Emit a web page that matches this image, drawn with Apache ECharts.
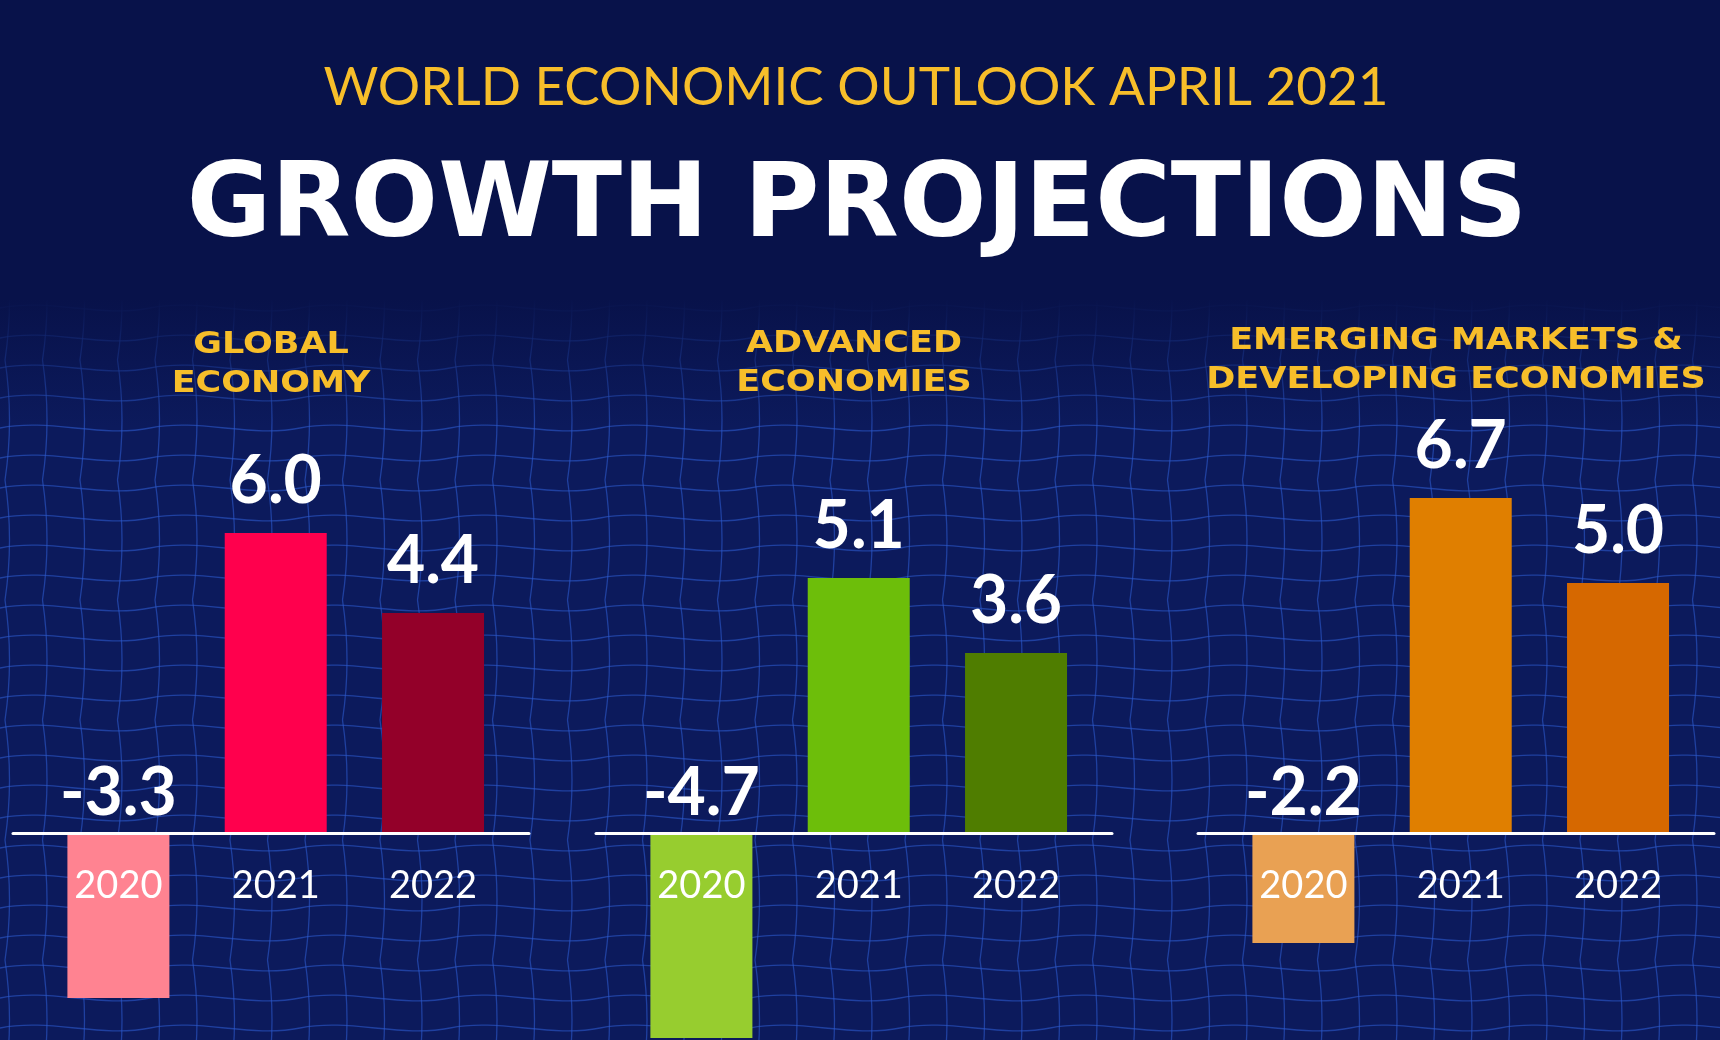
<!DOCTYPE html>
<html><head><meta charset="utf-8">
<script src="https://cdn.jsdelivr.net/npm/echarts@6/dist/echarts.min.js"></script>
<style>html,body{margin:0;padding:0;background:#08124A}#c{width:1720px;height:1040px}</style>
</head><body><div id="c"></div>
<script>
// ---- data ----
const years = ['2020', '2021', '2022'];
const panelTitles = ['GLOBAL\nECONOMY', 'ADVANCED\nECONOMIES', 'EMERGING MARKETS &\nDEVELOPING ECONOMIES'];
const globalEconomy = [-3.3, 6.0, 4.4];
const advancedEconomies = [-4.7, 5.1, 3.6];
const emergingDeveloping = [-2.2, 6.7, 5.0];
const mainTitle = 'GROWTH PROJECTIONS';
const subTitle = 'WORLD ECONOMIC OUTLOOK APRIL 2021';

// ---- styles / layout ----
const panelValues = [globalEconomy, advancedEconomies, emergingDeveloping];
const palettes = [
  ['#FF8391', '#FF004D', '#930029'],
  ['#97CD2F', '#6DBE0A', '#4F7D00'],
  ['#E9A153', '#E07F00', '#D66800']
];
const gridLefts = [13, 596, 1198];
const gridWidth = 516;
const titleY = [364, 363, 360];

// mesh background pattern
const pc = document.createElement('canvas');
pc.width = 150; pc.height = 120;
const g = pc.getContext('2d');
g.fillStyle = '#0C1A5C'; g.fillRect(0, 0, 150, 120);
g.strokeStyle = 'rgba(45,90,205,0.6)'; g.lineWidth = 1.3;
for (let y = 0; y < 120; y += 30) {
  g.beginPath(); g.moveTo(0, y + 8); g.bezierCurveTo(50, y - 2, 100, y + 18, 150, y + 8); g.stroke();
}
for (let x = 0; x < 150; x += 37.5) {
  g.beginPath(); g.moveTo(x + 5, 0); g.quadraticCurveTo(x + 14, 60, x + 5, 120); g.stroke();
}

const chart = echarts.init(document.getElementById('c'));

const graphic = [
  { type: 'rect', z: -20, silent: true, shape: { x: 0, y: 300, width: 1720, height: 740 },
    style: { fill: { image: pc, repeat: 'repeat' } } },
  { type: 'rect', z: -19, silent: true, shape: { x: 0, y: 298, width: 1720, height: 130 },
    style: { fill: new echarts.graphic.LinearGradient(0, 0, 0, 1, [
      { offset: 0, color: 'rgba(8,18,74,1)' }, { offset: 1, color: 'rgba(8,18,74,0)' }]) } },
  { type: 'text', z: 10, x: 856, y: 88,
    style: { text: subTitle, fontFamily: 'Lato', fontWeight: 'normal', fontSize: 53, fill: '#F7BE2A',
      align: 'center', verticalAlign: 'middle', textAlign: 'center', textVerticalAlign: 'middle' } },
  { type: 'text', z: 10, x: 857, y: 209,
    style: { text: mainTitle, fontFamily: 'DejaVu Sans', fontWeight: 'bold', fontSize: 103, fill: '#FFFFFF',
      align: 'center', verticalAlign: 'middle', textAlign: 'center', textVerticalAlign: 'middle' } }
];
panelTitles.forEach((t, i) => {
  graphic.push({ type: 'text', z: 10, x: gridLefts[i] + gridWidth / 2, y: titleY[i], scaleX: 1.13,
    style: { text: t, fontFamily: 'DejaVu Sans', fontWeight: 'bold', fontSize: 31, lineHeight: 39, fill: '#F7BE2A',
      align: 'center', verticalAlign: 'middle', textAlign: 'center', textVerticalAlign: 'middle' } });
});

// bar grids (0..2) and label grids (3..5)
const grids = [];
const xAxes = [];
const yAxes = [];
gridLefts.forEach((l, i) => {
  grids.push({ left: l, width: gridWidth, top: 333, bottom: 2, containLabel: false, outerBoundsMode: 'none' });
  xAxes.push({
    gridIndex: i, type: 'value', min: -0.67, max: 2.61, z: 10,
    axisLine: { show: true, onZero: true, lineStyle: { color: '#FFFFFF', width: 3 } },
    axisTick: { show: false }, splitLine: { show: false }, axisLabel: { show: false }
  });
  yAxes.push({ gridIndex: i, type: 'value', min: -4.1, max: 10, show: false, splitLine: { show: false } });
});
gridLefts.forEach((l, i) => {
  grids.push({ left: l, width: gridWidth, top: 333, height: 500, containLabel: false, outerBoundsMode: 'none' });
  xAxes.push({
    gridIndex: 3 + i, type: 'value', min: -0.67, max: 2.61, z: 10, position: 'bottom',
    axisLine: { show: false, onZero: false }, axisTick: { show: false }, splitLine: { show: false },
    axisLabel: { show: true, customValues: [0, 1, 2], formatter: v => years[Math.round(v)],
      color: '#FFFFFF', fontFamily: 'Lato', fontSize: 38, margin: 34 }
  });
  yAxes.push({ gridIndex: 3 + i, type: 'value', min: 0, max: 1, show: false, splitLine: { show: false } });
});

const option = {
  backgroundColor: '#08124A',
  animation: false,
  graphic: graphic,
  grid: grids,
  xAxis: xAxes,
  yAxis: yAxes,
  series: panelValues.map((vals, i) => ({
    type: 'bar', xAxisIndex: i, yAxisIndex: i, barWidth: 102, z: 5,
    data: vals.map((v, j) => ({ value: [j, v], itemStyle: { color: palettes[i][j] },
      label: { distance: v < 0 ? 6 : 18 } })),
    label: { show: true, position: 'top', color: '#FFFFFF', fontFamily: 'Lato', fontWeight: 'bold',
      fontSize: 66, formatter: p => p.value[1].toFixed(1) }
  }))
};
chart.setOption(option);
</script></body></html>
